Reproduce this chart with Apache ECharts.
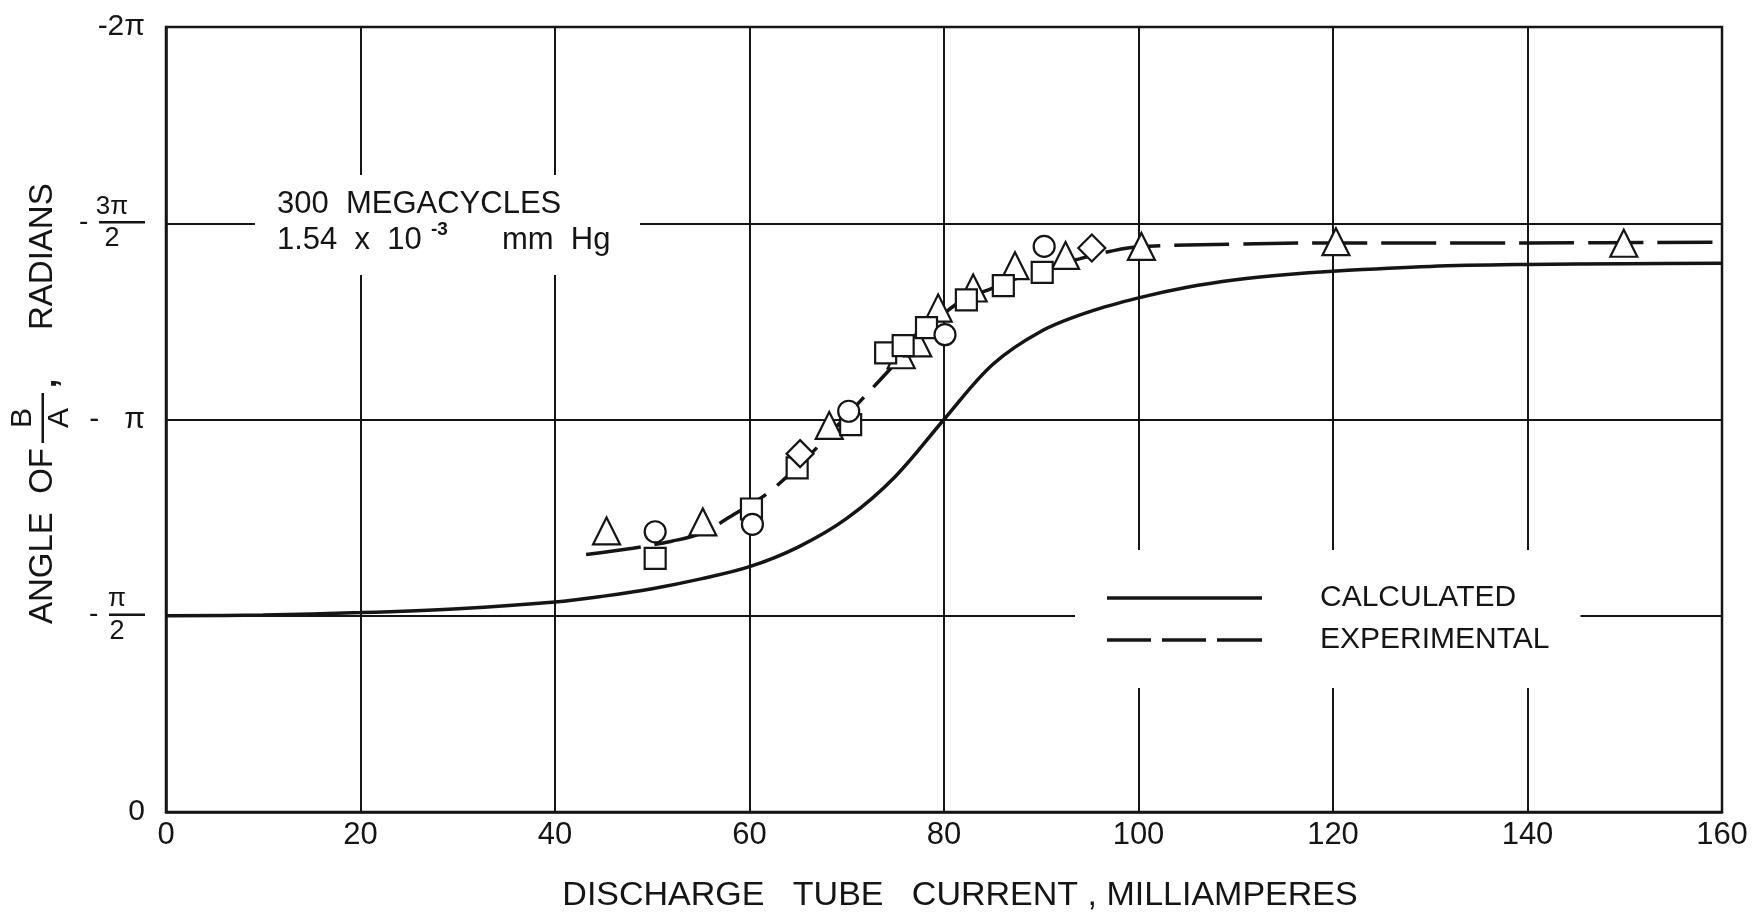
<!DOCTYPE html>
<html><head><meta charset="utf-8">
<script src="https://cdn.jsdelivr.net/npm/echarts@6/dist/echarts.min.js"></script>
<style>html,body{margin:0;padding:0;background:#fff}#c{width:1761px;height:918px}</style>
</head><body><div id="c"></div>
<script>
// ---- data (y values in multiples of pi radians; axis runs 0 .. -2pi) ----
const xTicks = [0, 20, 40, 60, 80, 100, 120, 140, 160];
const yTickLabels = ['0', '-π/2', '-π', '-3π/2', '-2π'];

const calcX = [0, 10, 20, 30, 40, 45, 50, 55, 60, 65, 70, 75, 80, 85, 90, 95, 100, 105, 110, 115, 120, 130, 140, 150, 160];
const calcY = [-0.5, -0.502, -0.508, -0.518, -0.535, -0.55, -0.569, -0.594, -0.625, -0.675, -0.748, -0.855, -1.0, -1.14, -1.225, -1.275, -1.31, -1.337, -1.356, -1.369, -1.378, -1.39, -1.395, -1.397, -1.398];

const expX = [43.2, 48, 52, 55, 58, 62, 66, 68, 70, 73.4, 76, 78, 80, 82, 85, 88, 91, 94, 97, 100, 110, 120, 140, 160];
const expY = [-0.656, -0.672, -0.69, -0.71, -0.752, -0.815, -0.905, -0.957, -1.01, -1.10, -1.17, -1.225, -1.27, -1.305, -1.335, -1.365, -1.39, -1.41, -1.428, -1.44, -1.447, -1.45, -1.45, -1.452];

const triX = [45.3, 55.2, 68.2, 75.6, 77.3, 79.4, 83.0, 87.3, 92.5, 100.3, 120.3, 149.9];
const triY = [-0.716, -0.739, -0.985, -1.165, -1.195, -1.284, -1.335, -1.392, -1.418, -1.441, -1.453, -1.449];
const cirX = [50.3, 60.3, 70.2, 80.1, 90.3];
const cirY = [-0.714, -0.733, -1.021, -1.216, -1.441];
const sqX = [50.3, 60.2, 64.9, 70.4, 74.0, 75.8, 78.2, 82.3, 86.1, 90.1];
const sqY = [-0.646, -0.772, -0.877, -0.987, -1.170, -1.188, -1.234, -1.305, -1.341, -1.375];
const diaX = [65.2, 95.2];
const diaY = [-0.913, -1.437];

const seriesNames = ['CALCULATED', 'EXPERIMENTAL'];
const xTitle = 'DISCHARGE   TUBE   CURRENT , MILLIAMPERES';

// ---- chart ----
const FONT = "'Liberation Sans', Arial, sans-serif";
const INK = '#151515';
const zip = (xs, ys) => xs.map((x, i) => [x, ys[i]]);

function yLabel(v) {
  const k = Math.round(-v * 2);
  const t = yTickLabels[k];
  if (t === '-π/2') return '{n|π}\n{m|-}{b1|}\n{d|2}';
  if (t === '-3π/2') return '{n3|3π}\n{m|-}{b3|}\n{d3|2}';
  if (t === '-π') return '{s|-   π}';
  if (t === '-2π') return '{s|-2π}';
  return '{s|' + t + '}';
}

const chart = echarts.init(document.getElementById('c'), null, {renderer: 'canvas'});
const markerStyle = {color: '#fff', borderColor: INK, borderWidth: 2.2, opacity: 1};

chart.setOption({
  backgroundColor: '#fff',
  animation: false,
  textStyle: {fontFamily: FONT},
  grid: {left: 166, right: 39, top: 27, bottom: 105, show: true, borderColor: INK, borderWidth: 2.5, backgroundColor: 'transparent'},
  xAxis: {
    type: 'value', min: 0, max: 160, interval: 20,
    axisLine: {show: true, lineStyle: {color: INK, width: 2.5}},
    axisTick: {show: false},
    splitLine: {show: true, lineStyle: {color: INK, width: 2}},
    axisLabel: {color: INK, fontSize: 31, fontFamily: FONT, margin: 8,
      formatter: v => xTicks.includes(v) ? String(v) : ''},
    name: xTitle, nameLocation: 'middle', nameGap: 67,
    nameTextStyle: {color: INK, fontSize: 34, fontFamily: FONT, padding: [0, 0, 0, 32]}
  },
  yAxis: {
    type: 'value', min: -2, max: 0, interval: 0.5, inverse: true,
    axisLine: {show: true, lineStyle: {color: INK, width: 2.5}},
    axisTick: {show: false},
    splitLine: {show: true, lineStyle: {color: INK, width: 2}},
    axisLabel: {
      color: INK, margin: 21, formatter: yLabel,
      rich: {
        s: {fontSize: 30, fontFamily: FONT, color: INK},
        n: {fontSize: 26, fontFamily: FONT, color: INK, width: 36, align: 'center', lineHeight: 25},
        d: {fontSize: 27, fontFamily: FONT, color: INK, width: 36, align: 'center', lineHeight: 27},
        b1: {width: 36, height: 2.5, backgroundColor: INK, lineHeight: 6},
        n3: {fontSize: 26, fontFamily: FONT, color: INK, width: 46, align: 'center', lineHeight: 25},
        d3: {fontSize: 27, fontFamily: FONT, color: INK, width: 46, align: 'center', lineHeight: 27},
        b3: {width: 46, height: 2.5, backgroundColor: INK, lineHeight: 6},
        m: {fontSize: 28, fontFamily: FONT, color: INK, width: 20, align: 'left', lineHeight: 6}
      }
    }
  },
  legend: {
    orient: 'vertical', left: 1075, top: 550,
    padding: [33, 31, 33, 32], itemGap: 12,
    itemWidth: 155, itemHeight: 3.5, symbolKeepAspect: false,
    backgroundColor: '#fff', selectedMode: false,
    itemStyle: {color: INK, borderWidth: 0},
    textStyle: {color: INK, fontSize: 30, lineHeight: 30, fontFamily: FONT, padding: [0, 0, 0, 53]},
    data: [
      {name: seriesNames[0], icon: 'path://M0,0H155V3.5H0Z', itemStyle: {color: INK}},
      {name: seriesNames[1], icon: 'path://M0,0H44V3.5H0Z M55,0H99V3.5H55Z M110,0H155V3.5H110Z', itemStyle: {color: INK}}
    ]
  },
  series: [
    {name: seriesNames[0], type: 'line', data: zip(calcX, calcY), smooth: 0.35, symbol: 'none', showSymbol: false,
      lineStyle: {color: INK, width: 3.5, type: 'solid'}, itemStyle: {color: INK}, z: 2},
    {name: seriesNames[1], type: 'line', data: zip(expX, expY), smooth: 0.35, symbol: 'none', showSymbol: false,
      lineStyle: {color: INK, width: 3.5, type: [55, 14]}, itemStyle: {color: INK}, z: 2},
    {name: 'tri', type: 'scatter', data: zip(triX, triY), symbol: 'triangle', symbolSize: [27, 27], itemStyle: markerStyle, z: 3},
    {name: 'sq', type: 'scatter', data: zip(sqX, sqY), symbol: 'rect', symbolSize: 21, itemStyle: markerStyle, z: 3},
    {name: 'cir', type: 'scatter', data: zip(cirX, cirY), symbol: 'circle', symbolSize: 21, itemStyle: markerStyle, z: 3},
    {name: 'dia', type: 'scatter', data: zip(diaX, diaY), symbol: 'diamond', symbolSize: [27, 27], itemStyle: markerStyle, z: 3}
  ],
  graphic: [
    {type: 'rect', z: 50, silent: true, shape: {x: 255, y: 175, width: 385, height: 100}, style: {fill: '#fff'}},
    {type: 'text', z: 51, silent: true, x: 277, y: 204, style: {text: '300  MEGACYCLES', font: '31px ' + FONT, fill: INK, verticalAlign: 'middle'}},
    {type: 'text', z: 51, silent: true, x: 277, y: 240, style: {text: '1.54  x  10', font: '31px ' + FONT, fill: INK, verticalAlign: 'middle'}},
    {type: 'text', z: 51, silent: true, x: 431, y: 230, style: {text: '-3', font: 'bold 19px ' + FONT, fill: INK, verticalAlign: 'middle'}},
    {type: 'text', z: 51, silent: true, x: 502, y: 240, style: {text: 'mm  Hg', font: '31px ' + FONT, fill: INK, verticalAlign: 'middle'}},
    {type: 'group', x: 43, y: 418, rotation: Math.PI / 2, z: 51, silent: true, children: [
      {type: 'text', x: -30, y: 0, style: {text: 'ANGLE  OF', font: '33px ' + FONT, fill: INK, align: 'right', verticalAlign: 'middle'}},
      {type: 'text', x: 0, y: -20, style: {text: 'B', font: '30px ' + FONT, fill: INK, align: 'center', verticalAlign: 'middle'}},
      {type: 'rect', shape: {x: -25, y: -1.5, width: 50, height: 2.5}, style: {fill: INK}},
      {type: 'text', x: 0, y: 17, style: {text: 'A', font: '30px ' + FONT, fill: INK, align: 'center', verticalAlign: 'middle'}},
      {type: 'text', x: 30, y: 4, style: {text: ',', font: 'bold 33px ' + FONT, fill: INK, align: 'left', verticalAlign: 'middle'}},
      {type: 'text', x: 88, y: 0, style: {text: 'RADIANS', font: '33px ' + FONT, fill: INK, align: 'left', verticalAlign: 'middle'}}
    ]}
  ]
});
</script>
</body></html>
